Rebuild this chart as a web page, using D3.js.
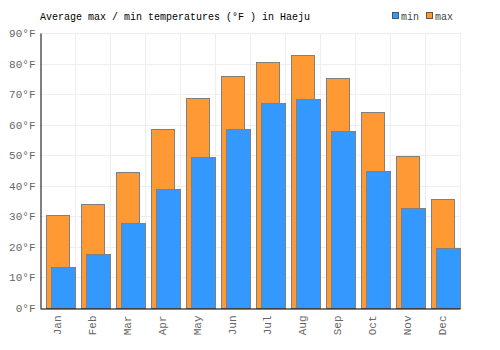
<!DOCTYPE html>
<html>
<head>
<meta charset="utf-8">
<script src="https://cdn.jsdelivr.net/npm/d3@7"></script>
<style>
  body { margin: 0; background: #fff; }
  text { font-family: "Liberation Mono", monospace; }
</style>
</head>
<body>
<script>
const months = ["Jan","Feb","Mar","Apr","May","Jun","Jul","Aug","Sep","Oct","Nov","Dec"]
const maxTemps = [30.3, 34.2, 44.5, 58.6, 68.7, 76.0, 80.6, 82.9, 75.4, 64.3, 49.6, 35.8]
const minTemps = [13.5, 17.7, 27.7, 39.0, 49.4, 58.6, 67.2, 68.4, 57.8, 44.7, 32.6, 19.8]
const yTicks = [0, 10, 20, 30, 40, 50, 60, 70, 80, 90]

const width = 500, height = 350
const plotLeft = 40, plotRight = 460, plotTop = 33, plotBottom = 308
const font = '"Liberation Mono", monospace'

const svg = d3.select('body').append('svg')
  .attr('width', width)
  .attr('height', height)

const x = d3.scaleBand().domain(months).range([plotLeft, plotRight])
const y = d3.scaleLinear().domain([0, 90]).range([plotBottom, plotTop])
const bw = x.bandwidth()

// grid
svg.append('g').selectAll('line')
  .data(yTicks)
  .enter()
  .append('line')
  .attr('x1', plotLeft).attr('x2', plotRight)
  .attr('y1', d => Math.round(y(d)) + 0.5).attr('y2', d => Math.round(y(d)) + 0.5)
  .attr('stroke', '#eeeeee')
svg.append('g').selectAll('line')
  .data(months)
  .enter()
  .append('line')
  .attr('x1', d => x(d) + bw + 0.5).attr('x2', d => x(d) + bw + 0.5)
  .attr('y1', plotTop).attr('y2', plotBottom)
  .attr('stroke', '#eeeeee')

// max bars
svg.append('g').selectAll('rect')
  .data(maxTemps)
  .enter()
  .append('rect')
  .attr('x', (d, i) => Math.round(x(months[i]) + bw * 0.18) + 0.5)
  .attr('y', d => Math.round(y(d)) + 0.5)
  .attr('width', Math.round(bw * 0.67))
  .attr('height', d => plotBottom - Math.round(y(d)))
  .attr('fill', '#ff9933')
  .attr('stroke', '#808080')
  .attr('stroke-width', 1)

// min bars
svg.append('g').selectAll('rect')
  .data(minTemps)
  .enter()
  .append('rect')
  .attr('x', (d, i) => Math.round(x(months[i]) + bw * 0.32) + 0.5)
  .attr('y', d => Math.round(y(d)) + 0.5)
  .attr('width', Math.round(bw * 0.69))
  .attr('height', d => plotBottom - Math.round(y(d)))
  .attr('fill', '#3399ff')
  .attr('stroke', '#808080')
  .attr('stroke-width', 1)

// axes
const yAxis = svg.append('g')
  .attr('transform', `translate(${plotLeft + 0.5},0)`)
  .call(d3.axisLeft(y).tickValues(yTicks).tickSize(0).tickPadding(5).tickFormat(d => d + '°F'))
yAxis.select('.domain').attr('stroke', '#000')
yAxis.selectAll('text').attr('fill', '#666').attr('font-size', 11)
  .style('font-family', font)

const xAxis = svg.append('g')
  .attr('transform', `translate(0,${plotBottom + 0.5})`)
  .call(d3.axisBottom(x).tickSize(0).tickPadding(0))
xAxis.select('.domain').attr('stroke', '#000')
xAxis.selectAll('text')
  .attr('fill', '#666')
  .attr('font-size', 11)
  .style('font-family', font)
  .attr('text-anchor', 'end')
  .attr('transform', 'rotate(-90)')
  .attr('x', -7)
  .attr('y', 0)
  .attr('dy', '0.35em')

// title
svg.append('text')
  .attr('x', 40).attr('y', 20)
  .attr('font-size', 10)
  .attr('fill', '#000')
  .text('Average max / min temperatures (°F ) in Haeju')

// legend
const legend = [["min", "#3399ff", 392], ["max", "#ff9933", 426]]
legend.forEach(([name, color, lx]) => {
  svg.append('rect')
    .attr('x', lx + 0.5).attr('y', 12.5)
    .attr('width', 6).attr('height', 6)
    .attr('fill', color)
    .attr('stroke', '#555')
  svg.append('text')
    .attr('x', lx + 9).attr('y', 20)
    .attr('font-size', 10)
    .attr('fill', '#444')
    .text(name)
})
</script>
</body>
</html>
